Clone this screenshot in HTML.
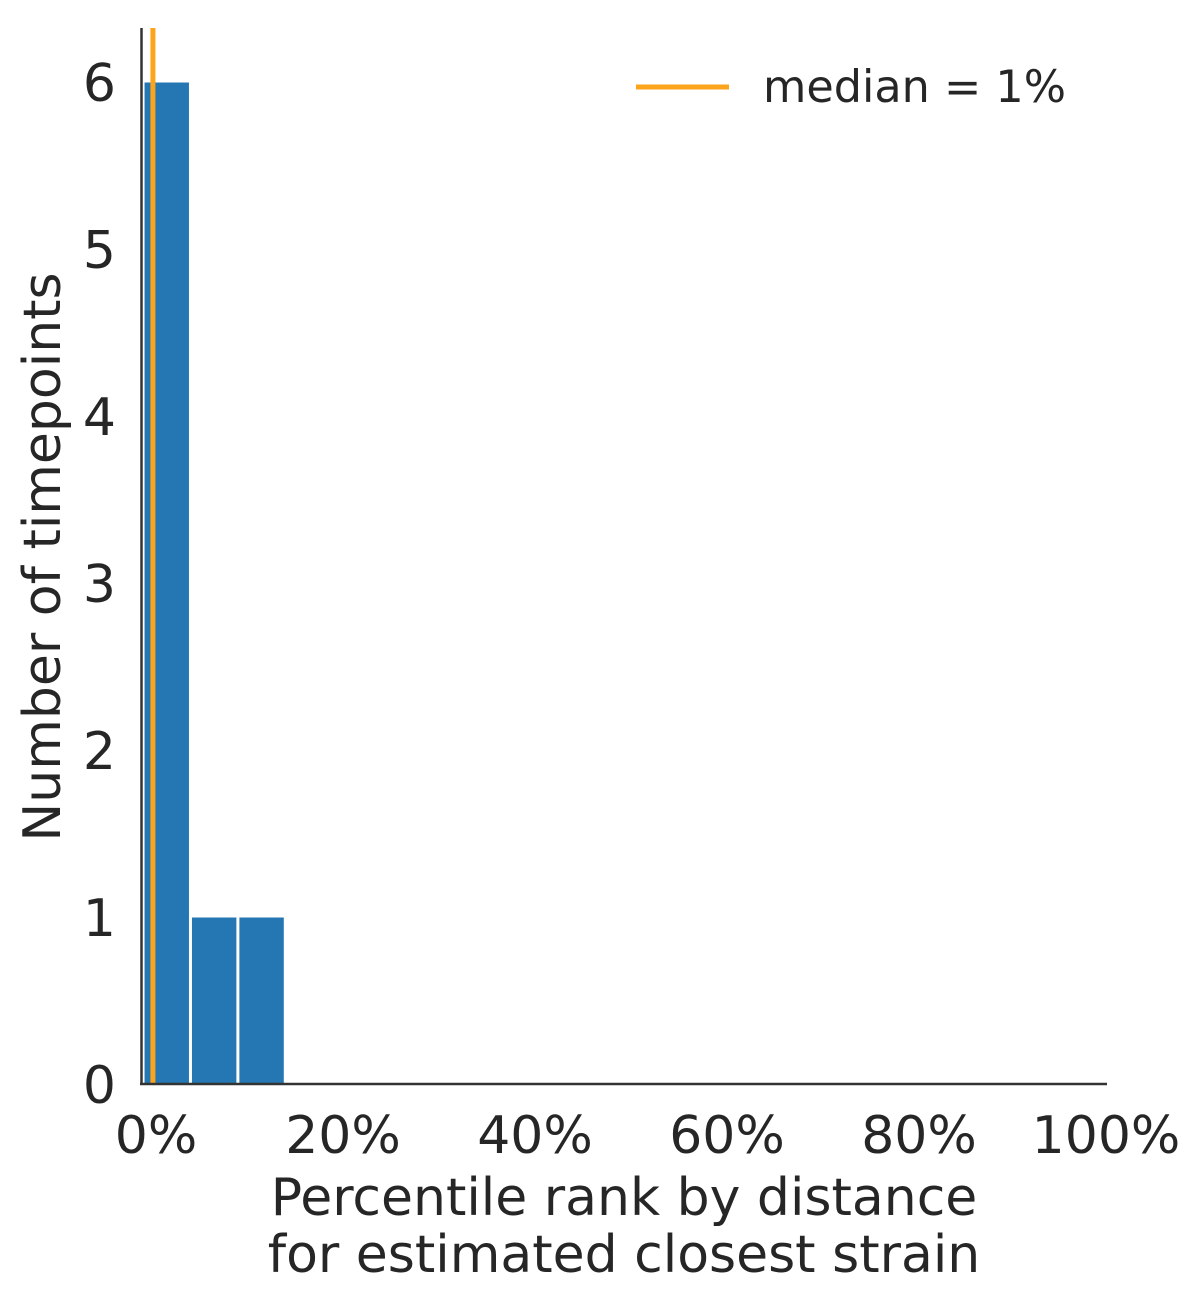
<!DOCTYPE html>
<html><head><meta charset="utf-8"><style>
body{margin:0;background:#fff;width:1198px;height:1296px;overflow:hidden}
text{font-family:"DejaVu Sans","Liberation Sans",sans-serif;fill:#262626}
</style></head><body>
<svg id="chart" width="1198" height="1296" viewBox="0 0 1198 1296" xmlns="http://www.w3.org/2000/svg"></svg>
<script>
const binEdges=[-0.83,4.11,9.05,13.99];
const binCounts=[6,1,1];
const xTicks=[0,20,40,60,80,100];
const xTickLabels=["0%","20%","40%","60%","80%","100%"];
const yTicks=[0,1,2,3,4,5,6];
const medianValue=0.2;
const NS="http://www.w3.org/2000/svg";
const svg=document.getElementById('chart');
const X0=151,PX=9.6,Y0=1084,PY=167;
const xs=v=>X0+v*PX, ys=v=>Y0-v*PY;
function mk(t,a,txt){const e=document.createElementNS(NS,t);for(const k in a)e.setAttribute(k,a[k]);if(txt!=null)e.textContent=txt;svg.appendChild(e);return e;}
for(let i=0;i<binCounts.length;i++){
 const x1=xs(binEdges[i]),x2=xs(binEdges[i+1]);
 const r=mk('rect',{x:x1+1,y:ys(binCounts[i]),width:x2-x1-2,height:Y0-ys(binCounts[i]),fill:'#2577b3',stroke:'#fff','stroke-width':1});
 
 
}
const ml=mk('line',{x1:xs(medianValue),x2:xs(medianValue),y1:28,y2:Y0,stroke:'#fca51c','stroke-width':5});


const ya=mk('line',{x1:141.5,x2:141.5,y1:28,y2:Y0,stroke:'#333','stroke-width':2.5});


const xa=mk('line',{x1:140,x2:1107,y1:Y0,y2:Y0,stroke:'#333','stroke-width':2.5});


xTicks.forEach((v,i)=>{
 const t=mk('text',{x:xs(v)-(v===100?5:0)+(v===0?5:0),y:1153,'font-size':52,'text-anchor':'middle'},xTickLabels[i]);
 
 
});
yTicks.forEach(v=>{
 const t=mk('text',{x:116,y:ys(v)+19,'font-size':52,'text-anchor':'end'},String(v));
 
 
});
const yt=mk('text',{x:0,y:0,'font-size':52,'text-anchor':'middle',transform:'translate(60,557) rotate(-90)'},'Number of timepoints');


const xt1=mk('text',{x:624,y:1215,'font-size':52,'text-anchor':'middle'},'Percentile rank by distance');


const xt2=mk('text',{x:624,y:1272,'font-size':52,'text-anchor':'middle'},'for estimated closest strain');


const lg=mk('line',{x1:636,x2:729,y1:87,y2:87,stroke:'#fca51c','stroke-width':5});


const lt=mk('text',{x:763,y:102,'font-size':44.5},'median = 1%');


</script>
</body></html>
